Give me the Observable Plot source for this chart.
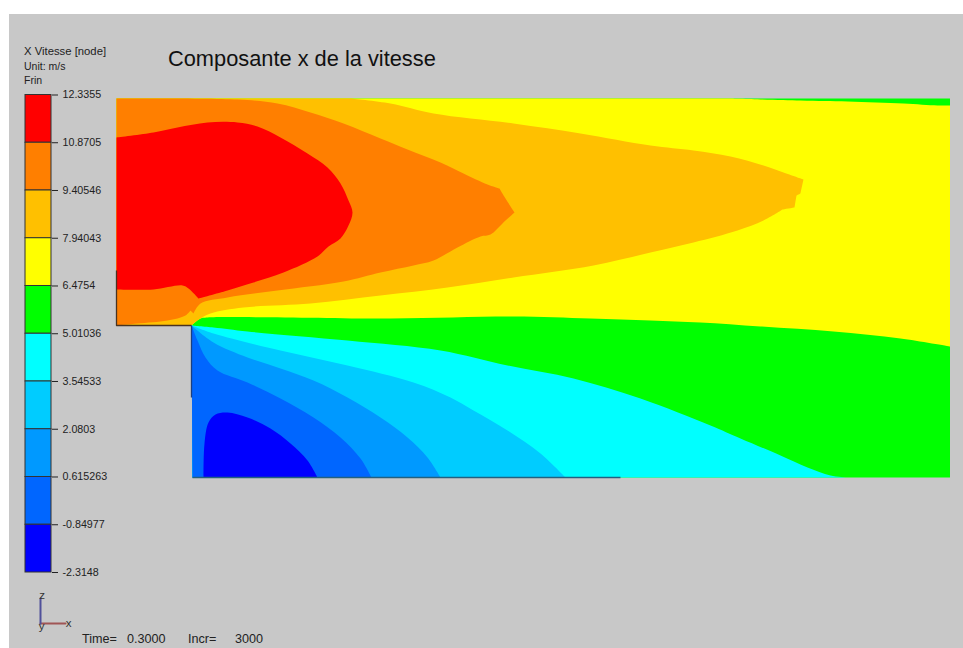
<!DOCTYPE html>
<html><head><meta charset="utf-8">
<style>
html,body{margin:0;padding:0;background:#fff;}
#page{position:relative;width:963px;height:648px;overflow:hidden;font-family:"Liberation Sans",Arial,sans-serif;color:#222;}
#panel{position:absolute;left:9px;top:14px;right:0;bottom:0;background:#c8c8c8;}
#page svg{position:absolute;background:transparent;max-width:none;}
.t{position:absolute;white-space:pre;line-height:1;}
.s{font-size:10.5px;}
</style>
<script src="https://cdn.jsdelivr.net/npm/d3@7"></script>
<script src="https://cdn.jsdelivr.net/npm/@observablehq/plot@0.6"></script>
</head><body><div id="page"><div id="panel"></div></div>
<script>
// Colour bar
const legendLabels = ["12.3355","10.8705","9.40546","7.94043","6.4754","5.01036","3.54533","2.0803","0.615263","-0.84977","-2.3148"];
const bandColors = ["#ff0000","#ff7f00","#ffc000","#ffff00","#00ff00","#00ffff","#00ccff","#0099ff","#0066ff","#0000ff"];

// Contour regions: [x along channel, z above floor].
// A point listed twice is a sharp corner of the contour.
const domainShape = [[0,379],[833.5,379],[833.5,0],[76,0],[76,152],[0,152]];
const bandYellow = [[0,379],[0,379],[614,379],[614,379],[684,377],[731,376],[787,374],[821,372],[833.5,372],[833.5,372],[833.5,131],[833.5,131],[784,139],[717,146],[644,151],[584,155],[534,157],[474,159],[397,161],[274,159],[91,160],[84,159],[76,153],[75,152],[75,152],[0,152]];
const bandGold = [[0,379],[0,379],[234,379],[234,379],[274,374],[317,364],[397,354],[464,344],[534,332],[577,327],[614,321],[647,312],[667,305],[687,298],[687,298],[684,284],[684,284],[680,282],[680,282],[678,270],[678,270],[666,268],[666,268],[647,257],[621,247],[577,235],[534,225],[477,212],[397,200],[331,190],[264,182],[194,174],[127,170],[94,164],[81,157],[75,152],[75,152],[0,152]];
const bandOrange = [[0,379],[0,379],[121,378],[161,374],[194,365],[227,354],[264,339],[291,328],[324,315],[347,304],[371,293],[383,289],[383,289],[389,279],[398,265],[398,265],[386,254],[374,243],[364,241],[341,230],[317,217],[297,212],[264,205],[227,196],[161,187],[111,180],[84,174],[77,164],[77,164],[74,167],[74,167],[69,162],[51,157],[21,154],[0,152],[0,152]];
const bandRed = [[0,340],[0,340],[37,345],[61,350],[91,355],[121,355],[141,351],[164,340],[191,324],[211,310],[224,294],[232,277],[236,265],[232,252],[224,239],[212,231],[201,221],[167,205],[137,195],[111,187],[82,179],[82,179],[72,189],[66,192],[37,188],[0,188],[0,188]];
const bandCyan = [[75,152],[75,152],[97,150],[131,146],[231,137],[324,127],[391,112],[457,99],[524,79],[594,52],[624,39],[664,22],[691,10],[714,2],[731,0],[731,0],[76,0]];
const bandSky = [[75,152],[75,152],[97,144],[164,127],[231,112],[297,95],[334,80],[357,67],[391,47],[424,24],[449,0],[449,0],[76,0]];
const bandAzure = [[75,152],[75,152],[97,135],[131,120],[164,109],[197,97],[231,80],[264,60],[291,40],[311,20],[324,0],[324,0],[76,0]];
const bandBlue = [[75,152],[75,152],[81,137],[89,120],[101,107],[131,95],[164,79],[197,60],[224,40],[244,19],[255,0],[255,0],[76,0]];
const bandDeep = [[87,0],[87,0],[88,34],[92,55],[99,63],[111,65],[131,60],[154,49],[174,34],[191,17],[201,0],[201,0]];
const edgeInlet = [[0,207],[0,152],[75,152]];
const edgeStep = [[75,152],[75,80]];
const edgeFloor = [[76,0],[504,0]];

// Axis triad
const triadX = [[0,0],[1,0]];
const triadZ = [[0,0],[0,1]];
const triadLabels = [{x:1.12,y:0,t:"x"},{x:0.06,y:1.12,t:"z"},{x:0.04,y:-0.1,t:"y"}];

const page = document.getElementById("page");
function add(svg,left,top){svg.style.left=left+"px";svg.style.top=top+"px";page.appendChild(svg);}
function text(str,left,top,size,cls){const d=document.createElement("div");d.className="t "+(cls||"");d.textContent=str;d.style.left=left+"px";d.style.top=top+"px";if(size)d.style.fontSize=size+"px";page.appendChild(d);return d;}

const poly = (pts,fill)=>Plot.line(pts,{x:d=>d[0],y:d=>d[1],fill,stroke:"none",curve:"catmull-rom"});
const edge = (pts,stroke)=>Plot.line(pts,{x:d=>d[0],y:d=>d[1],stroke,strokeWidth:1.3,strokeLinecap:"butt"});

// Main field
add(Plot.plot({
  width:963,height:648,marginLeft:116,marginRight:13,marginTop:98,marginBottom:171,
  style:{background:"transparent"},
  x:{domain:[0,834],axis:null},y:{domain:[0,379],axis:null},
  marks:[
    Plot.line(domainShape,{x:d=>d[0],y:d=>d[1],fill:bandColors[4],stroke:"none"}),
    poly(bandYellow,bandColors[3]),
    poly(bandGold,bandColors[2]),
    poly(bandOrange,bandColors[1]),
    poly(bandRed,bandColors[0]),
    poly(bandCyan,bandColors[5]),
    poly(bandSky,bandColors[6]),
    poly(bandAzure,bandColors[7]),
    poly(bandBlue,bandColors[8]),
    poly(bandDeep,bandColors[9]),
    edge(edgeInlet,"#4a3320"),
    edge(edgeStep,"#1c3f80"),
    edge(edgeFloor,"#24607f")
  ]
}),0,0);

// Colour bar
const thresholds = legendLabels.map(Number);
const bands = d3.pairs(thresholds).map(([hi,lo],i)=>({hi,lo,color:bandColors[i]}));
add(Plot.plot({
  width:130,height:648,marginLeft:25,marginRight:79,marginTop:94.5,marginBottom:76,
  style:{background:"transparent",fontFamily:'"Liberation Sans",Arial,sans-serif',fontSize:"10.7px",color:"#222"},
  x:{domain:[0,1],axis:null},
  y:{domain:[thresholds[thresholds.length-1],thresholds[0]],axis:null},
  marks:[
    Plot.rect(bands,{x1:()=>0,x2:()=>1,y1:"lo",y2:"hi",fill:"color",stroke:"#333",strokeWidth:1}),
    Plot.axisY({anchor:"right",ticks:thresholds,tickSize:6,tickPadding:5,stroke:"#222",tickFormat:v=>legendLabels[thresholds.indexOf(v)],label:null})
  ]
}),0,0);

// Axis triad
add(Plot.plot({
  width:100,height:60,marginLeft:10,marginRight:65,marginTop:8,marginBottom:27,
  style:{background:"transparent",fontFamily:'"Liberation Sans",Arial,sans-serif',fontSize:"11.5px",color:"#2a2a2a"},
  x:{domain:[0,1],axis:null},y:{domain:[0,1],axis:null},
  marks:[
    Plot.line(triadX,{x:d=>d[0],y:d=>d[1],stroke:"#a05555",strokeWidth:2}),
    Plot.line(triadZ,{x:d=>d[0],y:d=>d[1],stroke:"#50509a",strokeWidth:2}),
    Plot.text(triadLabels,{x:"x",y:"y",text:"t",fill:"#333"})
  ]
}),30,590);

// Labels
text("X Vitesse [node]",24,46,11.3,"s");
text("Unit: m/s",24,61,null,"s");
text("Frin",24,75,null,"s");
text("Composante x de la vitesse",168,48,21.8).style.color="#111";
text("Time=",82,633,12.6);
text("0.3000",127,633,12.6);
text("Incr=",188,633,12.6);
text("3000",235,633,12.6);
</script></body></html>
